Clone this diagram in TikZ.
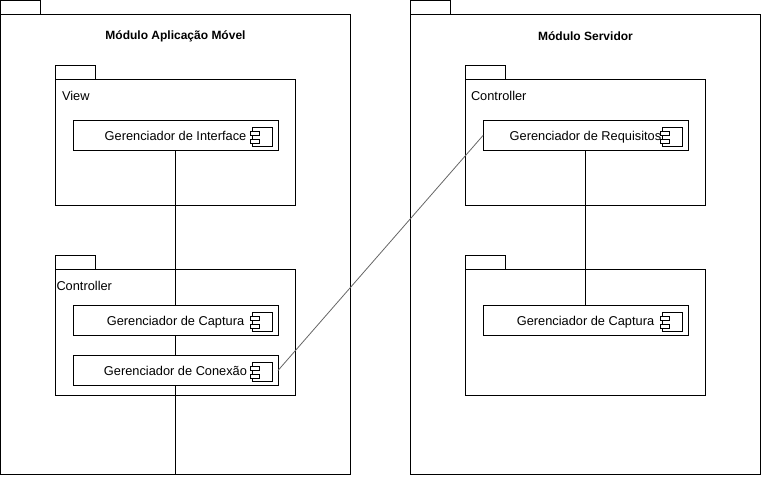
\documentclass[tikz,border=0pt]{standalone}
\usepackage{fontspec}
\setmainfont{Liberation Sans}
\tikzset{
  pkg/.style={draw=black,line width=1pt,rectangle,inner sep=0pt,outer sep=0pt,anchor=north west},
  comp/.style={draw=black,fill=white,line width=1pt,rectangle,inner sep=0pt,outer sep=0pt,minimum width=205pt,minimum height=30pt,text height=11pt,text depth=2pt,font=\fontsize{12.8}{14}\selectfont},
  lbl/.style={inner sep=0pt,outer sep=0pt,font=\fontsize{12.8}{14}\selectfont},
  wire/.style={draw=black,line width=1pt},
  link/.style={draw=black!60,line width=0.8pt},
  icon/.style={draw=black,fill=white,line width=1pt}
}
\newcommand{\compicon}[1]{%
  \path[icon] ([shift={(-25.5,-8.5)}]#1.east) rectangle ([shift={(-6,10.5)}]#1.east);
  \path[icon] ([shift={(-28,-4.5)}]#1.east) rectangle ([shift={(-19,-0.5)}]#1.east);
  \path[icon] ([shift={(-28,3.5)}]#1.east) rectangle ([shift={(-19,7.5)}]#1.east);
}
\begin{document}
\begin{tikzpicture}[x=1pt,y=-1pt]
\useasboundingbox (0,0) rectangle (761,477);
% outer packages
\node[pkg,minimum width=40pt,minimum height=14pt] (tabL) at (0.5,0.5) {};
\node[pkg,minimum width=350pt,minimum height=460pt] (outL) at (0.5,14.5) {};
\node[pkg,minimum width=40pt,minimum height=14pt] (tabR) at (410.5,0.5) {};
\node[pkg,minimum width=350pt,minimum height=460pt] (outR) at (410.5,14.5) {};
% inner packages
\node[pkg,minimum width=40pt,minimum height=14pt] (tabV) at (55.5,65.5) {};
\node[pkg,minimum width=240pt,minimum height=126pt] (view) at (55.5,79.5) {};
\node[pkg,minimum width=40pt,minimum height=14pt] (tabC) at (55.5,255.5) {};
\node[pkg,minimum width=240pt,minimum height=126pt] (ctrl) at (55.5,269.5) {};
\node[pkg,minimum width=40pt,minimum height=14pt] (tabS) at (465.5,65.5) {};
\node[pkg,minimum width=240pt,minimum height=126pt] (srv) at (465.5,79.5) {};
\node[pkg,minimum width=40pt,minimum height=14pt] (tabE) at (465.5,255.5) {};
\node[pkg,minimum width=240pt,minimum height=126pt] (emp) at (465.5,269.5) {};
% labels
\node[lbl,font=\fontsize{12}{14}\selectfont\bfseries] (tL) at (175.5,36.2) {Módulo Aplicação Móvel};
\node[lbl,font=\fontsize{12}{14}\selectfont\bfseries] (tR) at (585.5,36.2) {Módulo Servidor};
\node[lbl,anchor=west] (lV) at (62,96) {View};
\node[lbl,anchor=west] (lC) at (56.5,286) {Controller};
\node[lbl,anchor=west] (lS) at (471,96) {Controller};
% components
\node[comp] (iface) at (175.5,135.5) {Gerenciador de Interface};
\node[comp] (capt) at (175.5,320.5) {Gerenciador de Captura};
\node[comp] (conn) at (175.5,370.5) {Gerenciador de Conexão};
\node[comp] (req) at (585.5,135.5) {Gerenciador de Requisitos};
\node[comp] (capr) at (585.5,320.5) {Gerenciador de Captura};
% connectors
\draw[wire] (iface.south) -- (capt.north);
\draw[wire] (capt.south) -- (conn.north);
\draw[wire] (conn.south) -- (conn.south |- outL.south);
\draw[wire] (req.south) -- (capr.north);
\draw[link] (conn.east) -- (req.west);
% component icons
\compicon{iface}\compicon{capt}\compicon{conn}\compicon{req}\compicon{capr}
\end{tikzpicture}
\end{document}
